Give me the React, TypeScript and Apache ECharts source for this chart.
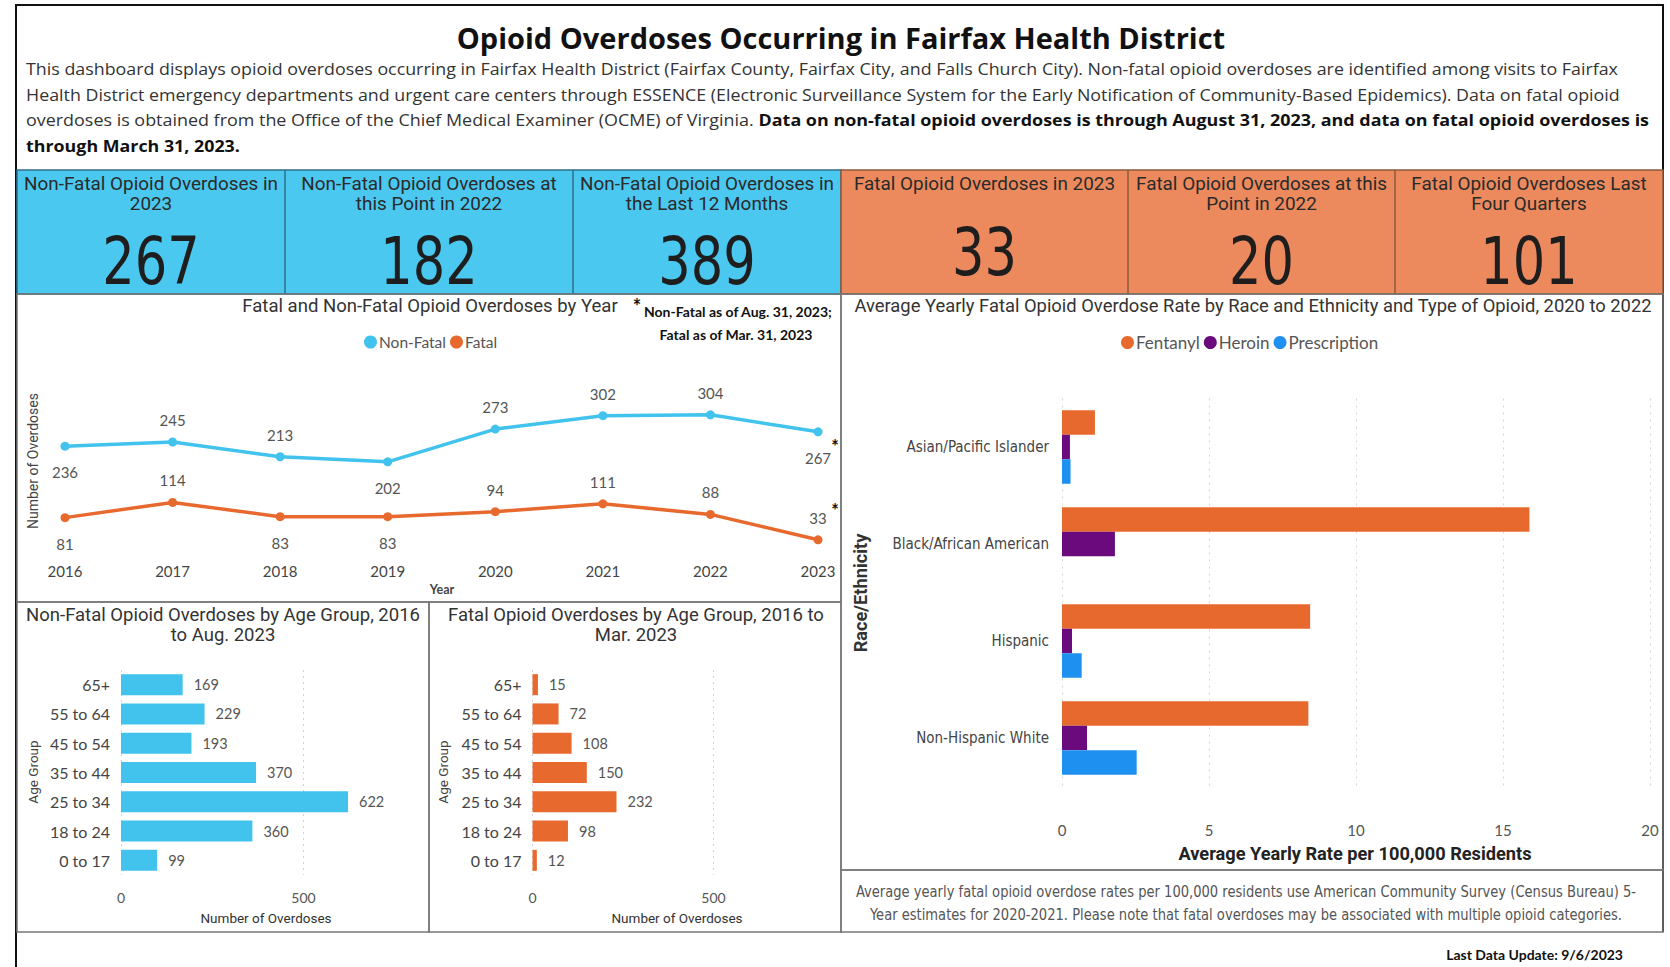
import React, { useEffect, useRef } from "react";
import * as echarts from "echarts";

// ---------- data ----------
const years = ["2016", "2017", "2018", "2019", "2020", "2021", "2022", "2023"];
const nonFatalByYear = [236, 245, 213, 202, 273, 302, 304, 267];
const fatalByYear = [81, 114, 83, 83, 94, 111, 88, 33];
const nonFatalLabelSide = ["bottom", "top", "top", "bottom", "top", "top", "top", "bottom"];
const fatalLabelSide = ["bottom", "top", "bottom", "bottom", "top", "top", "top", "top"];

const ageGroups = ["65+", "55 to 64", "45 to 54", "35 to 44", "25 to 34", "18 to 24", "0 to 17"];
const nonFatalByAge = [169, 229, 193, 370, 622, 360, 99];
const fatalByAge = [15, 72, 108, 150, 232, 98, 12];

const races = ["Asian/Pacific Islander", "Black/African American", "Hispanic", "Non-Hispanic White"];
const fentanylRate = [1.12, 15.9, 8.44, 8.38];
const heroinRate = [0.27, 1.8, 0.34, 0.85];
const prescriptionRate = [0.29, 0, 0.67, 2.54];

const nonFatalKpiTitles = [
  ["Non-Fatal Opioid Overdoses in", "2023"],
  ["Non-Fatal Opioid Overdoses at", "this Point in 2022"],
  ["Non-Fatal Opioid Overdoses in", "the Last 12 Months"],
];
const nonFatalKpiValues = [267, 182, 389];
const fatalKpiTitles = [
  ["Fatal Opioid Overdoses in 2023"],
  ["Fatal Opioid Overdoses at this", "Point in 2022"],
  ["Fatal Opioid Overdoses Last", "Four Quarters"],
];
const fatalKpiValues = [33, 20, 101];

// ---------- styles ----------
const DIN = "Roboto, 'DejaVu Sans', sans-serif";
const SEG = "Lato, 'Open Sans', sans-serif";
const OPEN = "'Open Sans', Lato, sans-serif";
const NARROW = "'Liberation Sans Narrow', 'DejaVu Sans Condensed', Roboto, sans-serif";
const CYAN = "#4BC8EF";
const CARD_ORANGE = "#EC8A5E";
const LINE_CYAN = "#41C3EE";
const ORANGE = "#E8692E";
const PURPLE = "#6A0A7C";
const BLUE = "#1E90F0";
const GRAYTXT = "#555";

function txt(text: string, x: number, y: number, o: any = {}) {
  const { rotation, scaleX, ...style } = o;
  return {
    type: "text",
    x,
    y,
    rotation: rotation || 0,
    scaleX: scaleX || 1,
    silent: true,
    style: {
      text,
      fill: "#333",
      fontFamily: SEG,
      fontSize: 14,
      textAlign: "center",
      textVerticalAlign: "middle",
      ...style,
    },
  };
}

function rect(x1: number, y1: number, x2: number, y2: number, style: any) {
  return { type: "rect", silent: true, shape: { x: x1, y: y1, width: x2 - x1, height: y2 - y1 }, style };
}

function buildGraphic() {
  const g: any[] = [];
  // outer frame
  g.push({
    type: "polyline",
    silent: true,
    shape: { points: [[16, 967], [16, 5], [1663, 5], [1663, 932]] },
    style: { stroke: "#111", lineWidth: 2, fill: null },
  });
  // title
  g.push(txt("Opioid Overdoses Occurring in Fairfax Health District", 841, 37, {
    fontSize: 29, fontWeight: "bold", fill: "#111", fontFamily: OPEN,
  }));
  // description
  const dStyle = { textAlign: "left", fontSize: 16.6, fill: "#333", fontFamily: OPEN, scaleX: 1.075 };
  g.push(txt("This dashboard displays opioid overdoses occurring in Fairfax Health District (Fairfax County, Fairfax City, and Falls Church City). Non-fatal opioid overdoses are identified among visits to Fairfax", 26, 69, dStyle));
  g.push(txt("Health District emergency departments and urgent care centers through ESSENCE (Electronic Surveillance System for the Early Notification of Community-Based Epidemics). Data on fatal opioid", 26, 95, dStyle));
  g.push(txt("{n|overdoses is obtained from the Office of the Chief Medical Examiner (OCME) of Virginia. }{b|Data on non-fatal opioid overdoses is through August 31, 2023, and data on fatal opioid overdoses is}", 26, 120, {
    ...dStyle,
    scaleX: 1.08,
    rich: {
      n: { fontSize: 16.6, fontFamily: OPEN, fill: "#333", color: "#333" },
      b: { fontSize: 16.6, fontFamily: OPEN, fontWeight: "bold", fill: "#111", color: "#111" },
    },
  }));
  g.push(txt("through March 31, 2023.", 26, 146, { ...dStyle, fontWeight: "bold", fill: "#111" }));

  // KPI cards
  g.push(rect(17, 170, 841, 294, { fill: CYAN, stroke: "#2F6F8A", lineWidth: 1.5 }));
  g.push(rect(841, 170, 1663, 294, { fill: CARD_ORANGE, stroke: "#8B5A3C", lineWidth: 1.5 }));
  [285, 573].forEach((x) => g.push({ type: "line", silent: true, shape: { x1: x, y1: 170, x2: x, y2: 294 }, style: { stroke: "#2F6F8A", lineWidth: 1.5 } }));
  [1128, 1395].forEach((x) => g.push({ type: "line", silent: true, shape: { x1: x, y1: 170, x2: x, y2: 294 }, style: { stroke: "#8B5A3C", lineWidth: 1.5 } }));
  const cyanCenters = [151, 429, 707];
  const orangeCenters = [984.5, 1261.5, 1529];
  const cardTitle = { fontFamily: DIN, fontSize: 17.5, fill: "#2a2a2a", scaleX: 1.08 };
  const cardNum = { fontFamily: NARROW, fontSize: 66, fill: "#1e1e1e", scaleX: 0.86 };
  cyanCenters.forEach((cx, i) => {
    nonFatalKpiTitles[i].forEach((t, j) => g.push(txt(t, cx, 184 + j * 20, cardTitle)));
    g.push(txt(String(nonFatalKpiValues[i]), cx, 261, cardNum));
  });
  orangeCenters.forEach((cx, i) => {
    fatalKpiTitles[i].forEach((t, j) => g.push(txt(t, cx, 184 + j * 20, cardTitle)));
    g.push(txt(String(fatalKpiValues[i]), cx, fatalKpiTitles[i].length === 1 ? 252 : 261, cardNum));
  });

  // panels
  const panel = { fill: null, stroke: "#777", lineWidth: 1.5 };
  g.push(rect(17, 294, 841, 602, panel));
  g.push(rect(17, 602, 429, 932, panel));
  g.push(rect(429, 602, 841, 932, panel));
  g.push(rect(841, 294, 1663, 870, panel));
  g.push(rect(841, 870, 1663, 932, panel));

  // line chart texts
  g.push(txt("Fatal and Non-Fatal Opioid Overdoses by Year", 430, 306, { fontFamily: DIN, fontSize: 17.5, fill: "#333", scaleX: 1.06 }));
  g.push(txt("*", 637, 306, { fontFamily: SEG, fontSize: 20, fontWeight: "bold", fill: "#111" }));
  g.push(txt("Non-Fatal as of Aug. 31, 2023;", 644, 311, { textAlign: "left", fontFamily: SEG, fontSize: 14, fontWeight: "bold", fill: "#111" }));
  g.push(txt("Fatal as of Mar. 31, 2023", 736, 334, { fontFamily: SEG, fontSize: 14, fontWeight: "bold", fill: "#111" }));
  g.push(txt("Number of Overdoses", 33, 461, { rotation: Math.PI / 2, fontFamily: DIN, fontSize: 14, fill: "#444" }));
  g.push(txt("Year", 442, 589, { fontFamily: SEG, fontSize: 12.5, fontWeight: "bold", fill: "#444" }));
  g.push(txt("*", 835, 446, { fontFamily: SEG, fontSize: 18, fontWeight: "bold", fill: "#111" }));
  g.push(txt("*", 835, 510, { fontFamily: SEG, fontSize: 18, fontWeight: "bold", fill: "#111" }));

  // age charts texts
  const ageTitle = { fontFamily: DIN, fontSize: 17.5, fill: "#333", scaleX: 1.057 };
  g.push(txt("Non-Fatal Opioid Overdoses by Age Group, 2016", 223, 615, ageTitle));
  g.push(txt("to Aug. 2023", 223, 635, ageTitle));
  g.push(txt("Fatal Opioid Overdoses by Age Group, 2016 to", 636, 615, ageTitle));
  g.push(txt("Mar. 2023", 636, 635, ageTitle));
  g.push(txt("Age Group", 33, 772, { rotation: Math.PI / 2, fontFamily: DIN, fontSize: 13.5, fill: "#444" }));
  g.push(txt("Age Group", 443, 772, { rotation: Math.PI / 2, fontFamily: DIN, fontSize: 13.5, fill: "#444" }));
  g.push(txt("Number of Overdoses", 266, 918, { fontFamily: DIN, fontSize: 13.5, fill: "#333" }));
  g.push(txt("Number of Overdoses", 677, 918, { fontFamily: DIN, fontSize: 13.5, fill: "#333" }));

  // race chart texts
  g.push(txt("Average Yearly Fatal Opioid Overdose Rate by Race and Ethnicity and Type of Opioid, 2020 to 2022", 1253, 306, { fontFamily: DIN, fontSize: 17.5, fill: "#333", scaleX: 1.05 }));
  g.push(txt("Race/Ethnicity", 861, 593, { rotation: Math.PI / 2, fontFamily: DIN, fontSize: 17.5, fontWeight: "bold", fill: "#333", scaleX: 1.04 }));
  g.push(txt("Average Yearly Rate per 100,000 Residents", 1355, 854, { fontFamily: DIN, fontSize: 17.5, fontWeight: "bold", fill: "#222", scaleX: 1.04 }));

  // footnote
  const fn = { fontFamily: NARROW, fontSize: 15.5, fill: "#555", scaleX: 0.94 };
  g.push(txt("Average yearly fatal opioid overdose rates per 100,000 residents use American Community Survey (Census Bureau) 5-", 1246, 892, fn));
  g.push(txt("Year estimates for 2020-2021. Please note that fatal overdoses may be associated with multiple opioid categories.", 1246, 915, fn));
  g.push(txt("Last Data Update: 9/6/2023", 1623, 954, { textAlign: "right", fontFamily: SEG, fontSize: 14, fontWeight: "bold", fill: "#111" }));
  return g;
}

function buildOption() {
  const lineLabel = (side: string) => ({
    show: true,
    position: side,
    distance: side === "top" ? 10 : 14,
    color: GRAYTXT,
    fontFamily: SEG,
    fontSize: 15,
  });
  const ageXAxis = (gridIndex: number) => ({
    type: "value",
    gridIndex,
    min: 0,
    max: 700,
    interval: 500,
    axisLine: { show: false },
    axisTick: { show: false },
    axisLabel: { showMaxLabel: false, margin: 15, color: GRAYTXT, fontFamily: SEG, fontSize: 14 },
    splitLine: { show: true, showMaxLine: false, lineStyle: { type: [2, 4], color: "#d4d4d4" } },
  });
  const ageYAxis = (gridIndex: number) => ({
    type: "category",
    gridIndex,
    data: ageGroups,
    inverse: true,
    axisLine: { show: false },
    axisTick: { show: false },
    axisLabel: { margin: 11, color: "#444", fontFamily: SEG, fontSize: 16 },
  });
  const ageLabel = { show: true, position: "right", distance: 11, color: GRAYTXT, fontFamily: SEG, fontSize: 14.5 };

  return {
    animation: false,
    backgroundColor: "#fff",
    graphic: { elements: buildGraphic() },
    legend: [
      {
        data: ["Non-Fatal", "Fatal"],
        left: 359,
        top: 329,
        icon: "circle",
        itemWidth: 13,
        itemHeight: 13,
        itemGap: 4,
        textStyle: { color: GRAYTXT, fontFamily: SEG, fontSize: 15.5, padding: [0, 0, 0, -3] },
        selectedMode: false,
      },
      {
        data: ["Fentanyl", "Heroin", "Prescription"],
        left: 1116,
        top: 329,
        icon: "circle",
        itemWidth: 13,
        itemHeight: 13,
        itemGap: 4,
        textStyle: { color: GRAYTXT, fontFamily: SEG, fontSize: 17, padding: [0, 0, 0, -3] },
        selectedMode: false,
      },
    ],
    grid: [
      { left: 65, top: 370.5, width: 753, height: 184.5 },
      { left: 121, top: 670, width: 255.5, height: 205 },
      { left: 532.5, top: 670, width: 253.4, height: 205 },
      { left: 1062, top: 398.5, width: 588, height: 388 },
    ],
    xAxis: [
      {
        type: "category",
        gridIndex: 0,
        data: years,
        boundaryGap: false,
        axisLine: { show: false },
        axisTick: { show: false },
        axisLabel: { margin: 8, color: "#444", fontFamily: SEG, fontSize: 15 },
      },
      ageXAxis(1),
      ageXAxis(2),
      {
        type: "value",
        gridIndex: 3,
        min: 0,
        max: 20,
        interval: 5,
        axisLine: { show: false },
        axisTick: { show: false },
        axisLabel: { margin: 36, color: GRAYTXT, fontFamily: SEG, fontSize: 15 },
        splitLine: { show: true, lineStyle: { type: [2, 5], color: "#d4d4d4" } },
      },
    ],
    yAxis: [
      { type: "value", gridIndex: 0, min: 0, max: 400, show: false },
      ageYAxis(1),
      ageYAxis(2),
      {
        type: "category",
        gridIndex: 3,
        data: races,
        inverse: true,
        axisLine: { show: false },
        axisTick: { show: false },
        axisLabel: { margin: 13, color: "#444", fontFamily: NARROW, fontSize: 15 },
      },
    ],
    series: [
      {
        name: "Non-Fatal",
        type: "line",
        xAxisIndex: 0,
        yAxisIndex: 0,
        data: nonFatalByYear.map((v, i) => ({ value: v, label: lineLabel(nonFatalLabelSide[i]) })),
        color: LINE_CYAN,
        lineStyle: { width: 3.5, color: LINE_CYAN },
        symbol: "circle",
        symbolSize: 9,
        itemStyle: { color: LINE_CYAN },
      },
      {
        name: "Fatal",
        type: "line",
        xAxisIndex: 0,
        yAxisIndex: 0,
        data: fatalByYear.map((v, i) => ({ value: v, label: lineLabel(fatalLabelSide[i]) })),
        color: ORANGE,
        lineStyle: { width: 3.5, color: ORANGE },
        symbol: "circle",
        symbolSize: 9,
        itemStyle: { color: ORANGE },
      },
      {
        name: "Non-Fatal by Age",
        type: "bar",
        xAxisIndex: 1,
        yAxisIndex: 1,
        data: nonFatalByAge,
        barWidth: 21,
        itemStyle: { color: LINE_CYAN },
        label: ageLabel,
      },
      {
        name: "Fatal by Age",
        type: "bar",
        xAxisIndex: 2,
        yAxisIndex: 2,
        data: fatalByAge,
        barWidth: 21,
        itemStyle: { color: ORANGE },
        label: ageLabel,
      },
      {
        name: "Fentanyl",
        type: "bar",
        xAxisIndex: 3,
        yAxisIndex: 3,
        data: fentanylRate,
        barWidth: 24.5,
        barGap: "0%",
        color: ORANGE,
        itemStyle: { color: ORANGE },
      },
      {
        name: "Heroin",
        type: "bar",
        xAxisIndex: 3,
        yAxisIndex: 3,
        data: heroinRate,
        barWidth: 24.5,
        barGap: "0%",
        color: PURPLE,
        itemStyle: { color: PURPLE },
      },
      {
        name: "Prescription",
        type: "bar",
        xAxisIndex: 3,
        yAxisIndex: 3,
        data: prescriptionRate,
        barWidth: 24.5,
        barGap: "0%",
        color: BLUE,
        itemStyle: { color: BLUE },
      },
    ],
  };
}

export default function App() {
  const ref = useRef<HTMLDivElement>(null);
  useEffect(() => {
    if (!ref.current) return;
    const chart = echarts.init(ref.current, null, { renderer: "svg" });
    chart.setOption(buildOption() as any);
    return () => chart.dispose();
  }, []);
  return (
    <div
      ref={ref}
      style={{ position: "absolute", left: 0, top: 0, width: 1670, height: 967, background: "#fff" }}
    />
  );
}
